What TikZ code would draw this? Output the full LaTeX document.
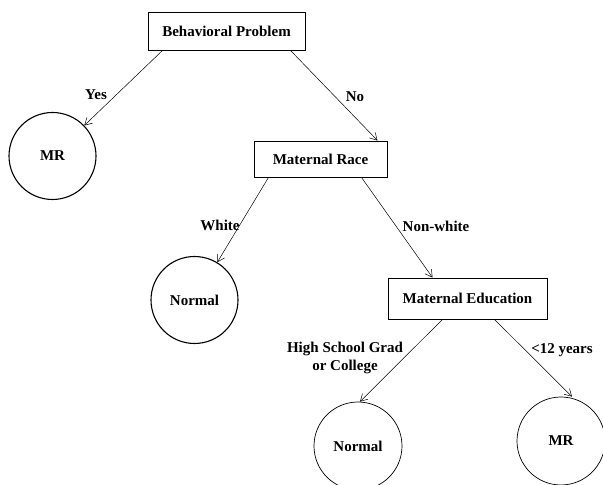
\documentclass[tikz,border=0pt]{standalone}
\usepackage{fontspec}
\setmainfont{Liberation Serif}
\usetikzlibrary{arrows.meta}
\begin{document}
\begin{tikzpicture}[x=1pt,y=1pt,
  every node/.style={font=\fontsize{15}{18.5}\selectfont\bfseries},
  boxnode/.style={draw,line width=0.9pt,inner sep=0pt},
  leaf/.style={draw,circle,line width=1.1pt,minimum size=87pt,inner sep=0pt},
  leafthin/.style={draw,circle,line width=0.7pt,minimum size=88pt,inner sep=0pt},
  conn/.style={line width=0.5pt,-{Straight Barb[length=7pt,width=8pt]}},
  lbl/.style={inner sep=0pt,align=center}]
\useasboundingbox (0,0) rectangle (603,485);
\clip (0,0) rectangle (603,485);
% boxes (y = 485 - pixel y)
\node[boxnode,minimum width=157pt,minimum height=38pt] (bp) at (226.5,454) {Behavioral Problem};
\node[boxnode,minimum width=133pt,minimum height=36pt] (mrace) at (320.5,326) {Maternal Race};
\node[boxnode,minimum width=159pt,minimum height=41pt] (med) at (467.5,186.5) {Maternal Education};
% leaves
\node[leaf] (mr1) at (52.5,329) {MR};
\node[leaf] (nl1) at (194.5,185) {Normal};
\node[leafthin] (nl2) at (358,39) {Normal};
\node[leafthin] (mr2) at (561,44) {MR};
% connectors
\draw[conn] ([xshift=-64pt]bp.south) -- (mr1);
\draw[conn] ([xshift=64pt]bp.south) -- ([xshift=57pt]mrace.north);
\draw[conn] ([xshift=-52pt]mrace.south) -- (nl1);
\draw[conn] ([xshift=41pt]mrace.south) -- ([xshift=-35pt]med.north);
\draw[conn] ([xshift=-25pt]med.south) -- ([xshift=2pt]nl2.north);
\draw[conn] ([xshift=27pt]med.south) -- ([xshift=11pt]mr2.north);
% labels
\node[lbl] (lyes) at (96,390) {Yes};
\node[lbl] (lno) at (355,388) {No};
\node[lbl] (lwhite) at (220,260) {White};
\node[lbl] (lnonw) at (436,259) {Non-white};
\node[lbl] (lhs) at (345,127) {High School Grad\\or College};
\node[lbl] (llt) at (562,135) {<12 years};
\end{tikzpicture}
\end{document}
